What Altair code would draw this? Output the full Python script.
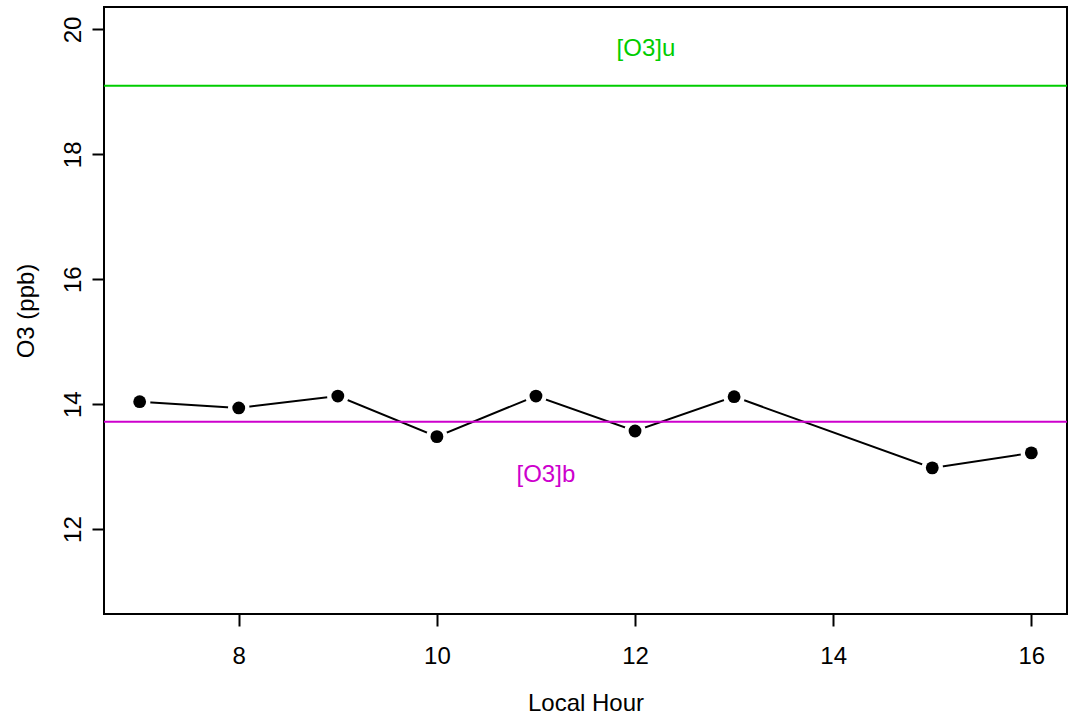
import altair as alt
import pandas as pd

hours = [7, 8, 9, 10, 11, 12, 13, 15, 16]
o3 = [14.04, 13.94, 14.13, 13.48, 14.13, 13.57, 14.12, 12.98, 13.22]
upper_level = 19.10
base_level = 13.72
label_names = ["[O3]u", "[O3]b"]
label_x = [12.11, 11.10]
label_y = [19.57, 12.76]
label_colors = ["#00CD00", "#CD00CD"]

x_ticks = [8, 10, 12, 14, 16]
y_ticks = [12, 14, 16, 18, 20]

df = pd.DataFrame({"hour": hours, "o3": o3})
levels = pd.DataFrame({"level": [upper_level, base_level], "color": ["#00CD00", "#CD00CD"]})
labels = pd.DataFrame({"name": label_names, "x": label_x, "y": label_y, "color": label_colors})

FONT = "Liberation Sans"
FS = 24

xscale = alt.Scale(domain=[6.64, 16.36], nice=False, zero=False)
yscale = alt.Scale(domain=[10.64, 20.36], nice=False, zero=False)

xaxis = alt.Axis(
    values=x_ticks, format="d", title="Local Hour", grid=False, domain=False,
    tickColor="black", tickWidth=2, tickSize=12,
    labelFont=FONT, labelFontSize=FS, labelColor="black",
    labelBaseline="alphabetic", labelPadding=37, labelFlush=False, labelOverlap=False,
    titleFont=FONT, titleFontSize=FS, titleFontWeight="normal", titleColor="black",
    titleX=481.5, titleY=96, titleBaseline="alphabetic", titleAlign="center",
)
yaxis = alt.Axis(
    values=y_ticks, format="d", title="O3 (ppb)", grid=False, domain=False,
    tickColor="black", tickWidth=2, tickSize=12,
    labelFont=FONT, labelFontSize=FS, labelColor="black", labelAngle=270,
    labelAlign="center", labelBaseline="alphabetic", labelPadding=12,
    labelFlush=False, labelOverlap=False,
    titleFont=FONT, titleFontSize=FS, titleFontWeight="normal", titleColor="black",
    titleAngle=270, titleX=-71, titleY=303.5, titleBaseline="alphabetic", titleAlign="center",
)

base = alt.Chart(df)

line = base.mark_line(color="black", strokeWidth=2).encode(
    x=alt.X("hour:Q", scale=xscale, axis=xaxis),
    y=alt.Y("o3:Q", scale=yscale, axis=yaxis),
)
halo = base.mark_circle(color="white", opacity=1, size=460).encode(
    x=alt.X("hour:Q", scale=xscale),
    y=alt.Y("o3:Q", scale=yscale),
)
rules = alt.Chart(levels).mark_rule(strokeWidth=2).encode(
    y=alt.Y("level:Q", scale=yscale),
    color=alt.Color("color:N", scale=None),
)
dots = base.mark_circle(color="black", opacity=1, size=165).encode(
    x=alt.X("hour:Q", scale=xscale),
    y=alt.Y("o3:Q", scale=yscale),
)
texts = alt.Chart(labels).mark_text(
    font=FONT, fontSize=FS, align="center", baseline="alphabetic"
).encode(
    x=alt.X("x:Q", scale=xscale),
    y=alt.Y("y:Q", scale=yscale),
    text="name:N",
    color=alt.Color("color:N", scale=None),
)

chart = alt.layer(line, halo, rules, dots, texts).properties(
    width=963, height=607,
    autosize=alt.AutoSizeParams(type="none"),
    padding={"left": 104, "top": 7, "right": 1, "bottom": 103},
    background="white",
).configure_view(stroke="black", strokeWidth=2)

chart.save("out.html", embed_options={"renderer": "svg", "actions": False})
